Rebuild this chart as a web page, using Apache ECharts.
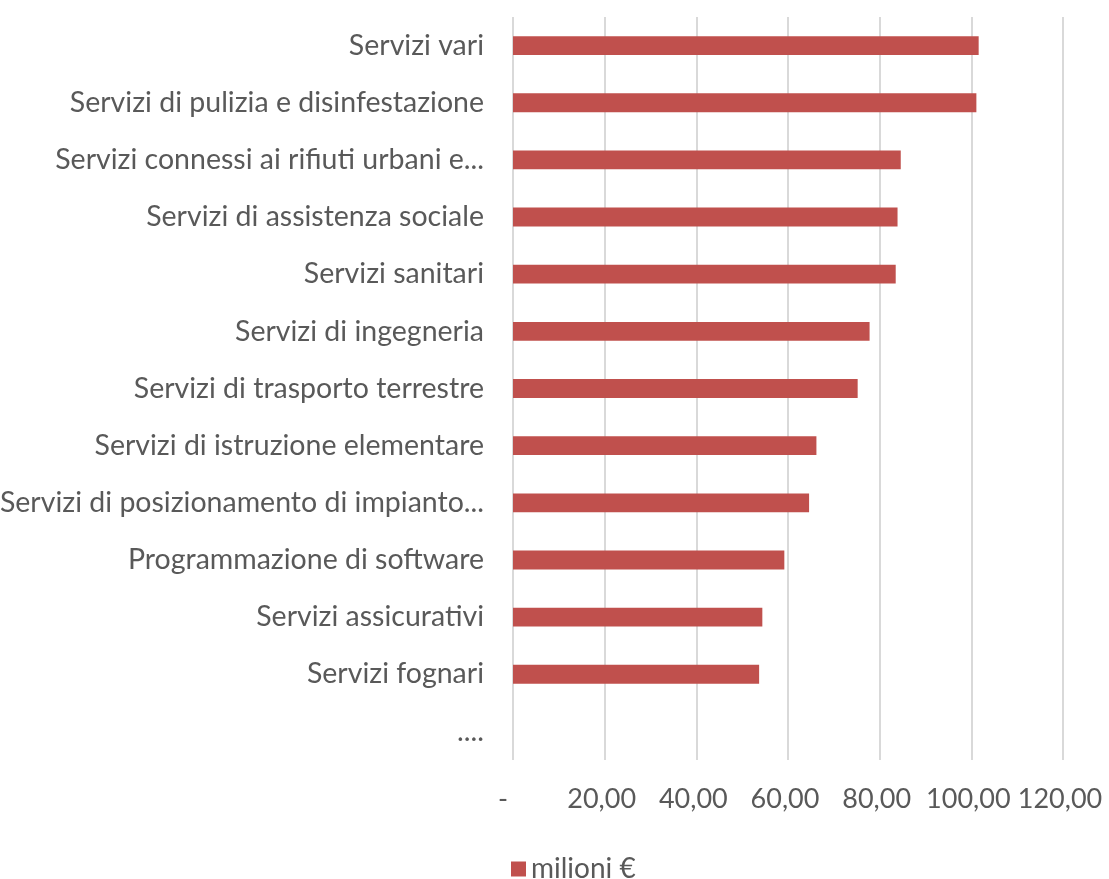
<!DOCTYPE html>
<html>
<head>
<meta charset="utf-8">
<script src="https://cdn.jsdelivr.net/npm/echarts@6/dist/echarts.min.js"></script>
<style>
  html, body { margin: 0; padding: 0; background: #fff; }
  #chart { width: 1109px; height: 879px; }
</style>
</head>
<body>
<div id="chart"></div>
<script>
// categories from top to bottom, as shown
const categories = [
  'Servizi vari',
  'Servizi di pulizia e disinfestazione',
  'Servizi connessi ai rifiuti urbani e...',
  'Servizi di assistenza sociale',
  'Servizi sanitari',
  'Servizi di ingegneria',
  'Servizi di trasporto terrestre',
  'Servizi di istruzione elementare',
  'Servizi di posizionamento di impianto...',
  'Programmazione di software',
  'Servizi assicurativi',
  'Servizi fognari',
  '....'
]
const values = [101.6, 101.1, 84.6, 83.9, 83.5, 77.8, 75.2, 66.2, 64.6, 59.2, 54.4, 53.7, 0]
const seriesName = 'milioni €'

const chart = echarts.init(document.getElementById('chart'))

// accounting-style labels: zero shows as a dash
const fmt = (v) => v === 0 ? '-  ' : v.toFixed(2).replace('.', ',')

chart.setOption({
  animation: false,
  textStyle: { fontFamily: 'Lato' },
  grid: { left: 513, right: 46, top: 17, height: 743, outerBoundsMode: 'none', containLabel: false },
  legend: {
    top: 850,
    left: 506,
    itemWidth: 15,
    itemHeight: 15,
    itemGap: 6,
    icon: 'rect',
    textStyle: { fontSize: 28, color: '#595959', fontFamily: 'Lato' },
    data: [seriesName]
  },
  xAxis: {
    type: 'value',
    min: 0,
    max: 120,
    interval: 20,
    axisLine: { show: false },
    axisTick: { show: false },
    splitLine: { lineStyle: { color: '#D9D9D9', width: 2 } },
    axisLabel: {
      formatter: fmt,
      margin: 26,
      fontSize: 27,
      color: '#595959',
      hideOverlap: false,
      showMaxLabel: true,
      padding: [0, 6, 0, 0]
    }
  },
  yAxis: {
    type: 'category',
    inverse: true,
    data: categories,
    axisLine: { show: false },
    axisTick: { show: false },
    axisLabel: { margin: 29, fontSize: 28.5, color: '#595959' }
  },
  series: [{
    name: seriesName,
    type: 'bar',
    data: values,
    barWidth: '33%',
    itemStyle: { color: '#C0504D' }
  }]
})
</script>
</body>
</html>
